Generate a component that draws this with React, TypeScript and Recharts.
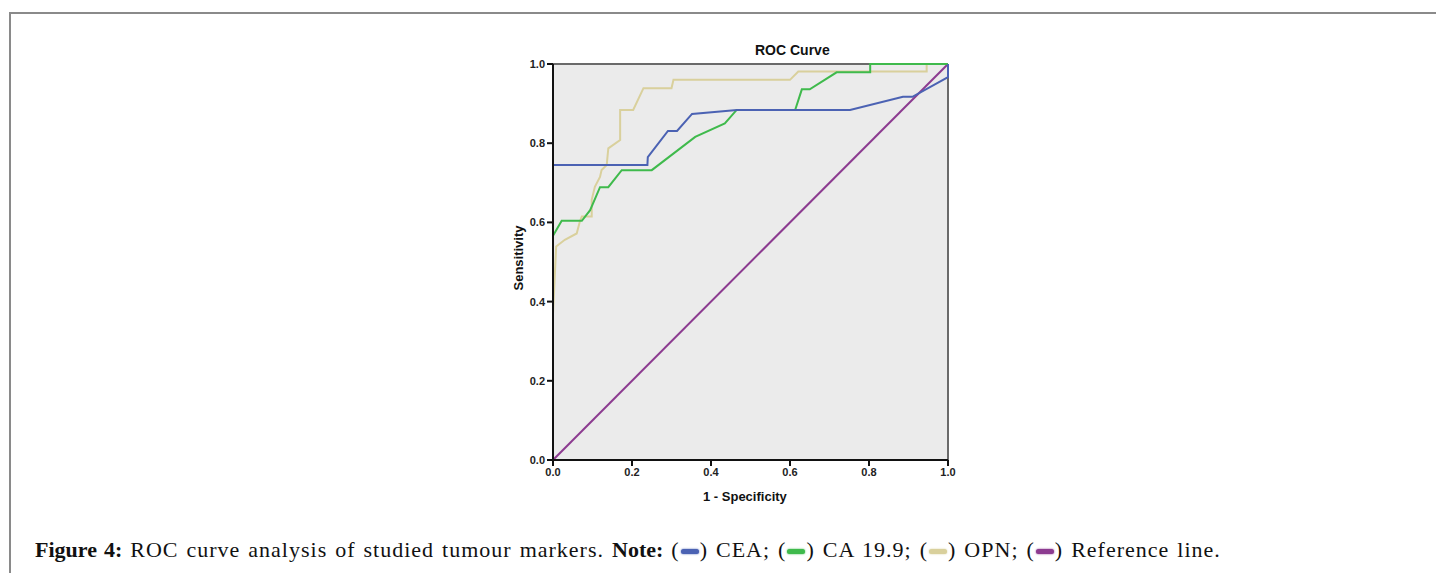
import React from 'react';
import {
    LineChart,
    Line,
    XAxis,
    YAxis,
    CartesianGrid,
    ReferenceLine,
} from 'recharts';

// ROC points: x = 1 - specificity, y = sensitivity
const ceaX = [0, 0, 0.239, 0.24, 0.291, 0.314, 0.352, 0.466, 0.752, 0.886, 0.91, 1.0, 1.0];
const ceaY = [0, 0.745, 0.745, 0.765, 0.831, 0.831, 0.874, 0.884, 0.884, 0.917, 0.917, 0.967, 1.0];

const caX = [0, 0, 0.022, 0.073, 0.094, 0.119, 0.14, 0.174, 0.25, 0.36, 0.435, 0.465, 0.613, 0.63, 0.65, 0.718, 0.803, 0.803, 1.0];
const caY = [0, 0.566, 0.604, 0.604, 0.631, 0.689, 0.689, 0.732, 0.732, 0.816, 0.85, 0.884, 0.884, 0.936, 0.936, 0.979, 0.979, 1.0, 1.0];

const opnX = [0, 0, 0.008, 0.03, 0.06, 0.068, 0.073, 0.098, 0.098, 0.106, 0.119, 0.123, 0.136, 0.14, 0.17, 0.17, 0.203, 0.229, 0.3, 0.305, 0.6, 0.621, 0.946, 0.946, 1.0];
const opnY = [0, 0.37, 0.539, 0.556, 0.572, 0.602, 0.615, 0.615, 0.657, 0.69, 0.715, 0.732, 0.745, 0.787, 0.808, 0.884, 0.884, 0.939, 0.939, 0.96, 0.96, 0.981, 0.981, 1.0, 1.0];

const refX = [0, 1];
const refY = [0, 1];

const ticks = [0, 0.2, 0.4, 0.6, 0.8, 1.0];

const toPoints = (xs: number[], ys: number[]) => xs.map((x, i) => ({ x, y: ys[i] }));

const cea = toPoints(ceaX, ceaY);
const ca199 = toPoints(caX, caY);
const opn = toPoints(opnX, opnY);
const reference = toPoints(refX, refY);

const COLORS = {
    cea: '#4b62b3',
    ca: '#3fba4c',
    opn: '#d9d09c',
    ref: '#8c3b90',
};

const tickStyle = { fill: '#222', fontSize: 11, fontWeight: 700, fontFamily: 'Liberation Sans, Arial, sans-serif' };

function Swatch({ color }: { color: string }) {
    return (
        <span style={{ display: 'inline-block', verticalAlign: 'middle', margin: '0 1px' }}>
            <span
                style={{
                    display: 'block',
                    width: 18,
                    height: 5,
                    borderRadius: 3,
                    background: color,
                    boxShadow: `0 0 2px ${color}`,
                }}
            />
        </span>
    );
}

const boldStyle = { letterSpacing: 0 };

export default function App() {
    return (
        <div style={{ position: 'absolute', left: 0, top: 0, width: 1436, height: 573, background: '#fff', overflow: 'hidden' }}>
            {/* outer frame: top and left edges */}
            <div style={{ position: 'absolute', left: 9, top: 12, width: 1427, height: 2, background: '#8a8a8a' }} />
            <div style={{ position: 'absolute', left: 9, top: 12, width: 2, height: 561, background: '#8a8a8a' }} />

            <div
                style={{
                    position: 'absolute',
                    left: 755,
                    top: 42,
                    fontFamily: 'Liberation Sans, Arial, sans-serif',
                    fontWeight: 700,
                    fontSize: 14,
                    color: '#111',
                    lineHeight: '16px',
                }}
            >
                ROC Curve
            </div>

            <div style={{ position: 'absolute', left: 480, top: 30 }}>
                <LineChart
                    width={478}
                    height={480}
                    margin={{ top: 34, right: 10, left: 33, bottom: 10 }}
                >
                    <CartesianGrid fill="#ebebeb" horizontal={false} vertical={false} />
                    <XAxis
                        type="number"
                        dataKey="x"
                        domain={[0, 1]}
                        ticks={ticks}
                        tickFormatter={(v: number) => v.toFixed(1)}
                        height={40}
                        stroke="#111"
                        strokeWidth={2}
                        tickSize={6}
                        tick={tickStyle}
                        allowDuplicatedCategory={false}
                    />
                    <YAxis
                        type="number"
                        dataKey="y"
                        domain={[0, 1]}
                        ticks={ticks}
                        tickFormatter={(v: number) => v.toFixed(1)}
                        width={40}
                        stroke="#111"
                        strokeWidth={2}
                        tickSize={6}
                        tick={tickStyle}
                    />
                    <ReferenceLine y={1} stroke="#6a6a6a" strokeWidth={2} />
                    <ReferenceLine x={1} stroke="#6a6a6a" strokeWidth={2} />
                    <Line data={reference} dataKey="y" type="linear" stroke={COLORS.ref} strokeWidth={2} dot={false} isAnimationActive={false} />
                    <Line data={opn} dataKey="y" type="linear" stroke={COLORS.opn} strokeWidth={2} dot={false} isAnimationActive={false} />
                    <Line data={ca199} dataKey="y" type="linear" stroke={COLORS.ca} strokeWidth={2} dot={false} isAnimationActive={false} />
                    <Line data={cea} dataKey="y" type="linear" stroke={COLORS.cea} strokeWidth={2} dot={false} isAnimationActive={false} />
                </LineChart>
            </div>

            <div
                style={{
                    position: 'absolute',
                    left: 703,
                    top: 489,
                    fontFamily: 'Liberation Sans, Arial, sans-serif',
                    fontWeight: 700,
                    fontSize: 13,
                    color: '#111',
                    lineHeight: '16px',
                }}
            >
                1 - Specificity
            </div>
            <div
                style={{
                    position: 'absolute',
                    left: 518,
                    top: 258,
                    transform: 'translate(-50%, -50%) rotate(-90deg)',
                    fontFamily: 'Liberation Sans, Arial, sans-serif',
                    fontWeight: 700,
                    fontSize: 13,
                    color: '#111',
                    whiteSpace: 'nowrap',
                }}
            >
                Sensitivity
            </div>

            <div
                style={{
                    position: 'absolute',
                    left: 35,
                    top: 537,
                    fontFamily: 'Liberation Serif, Times New Roman, serif',
                    fontSize: 22,
                    letterSpacing: 1.0,
                    wordSpacing: 1.5,
                    color: '#111',
                    whiteSpace: 'nowrap',
                    lineHeight: '26px',
                }}
            >
                <b style={boldStyle}>Figure 4:</b> ROC curve analysis of studied tumour markers. <b style={boldStyle}>Note:</b> (<Swatch color={COLORS.cea} />) CEA; (
                <Swatch color={COLORS.ca} />) CA 19.9; (<Swatch color={COLORS.opn} />) OPN; (<Swatch color={COLORS.ref} />) Reference line.
            </div>
        </div>
    );
}
